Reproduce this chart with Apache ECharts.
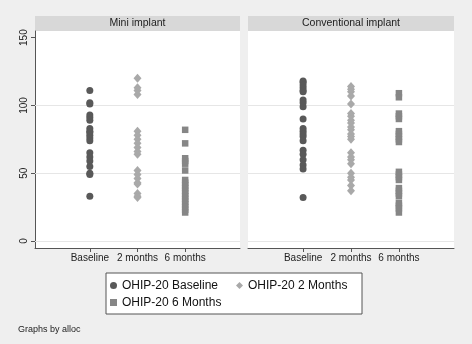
<!DOCTYPE html>
<html>
<head>
<meta charset="utf-8">
<script src="https://cdn.jsdelivr.net/npm/echarts@6/dist/echarts.min.js"></script>
<style>
  html, body { margin: 0; padding: 0; background: #efefef; }
  #show { width: 472px; height: 344px; }
</style>
</head>
<body>
<div id="show"></div>
<script>
var myChart = echarts.init(document.getElementById("show"));

var panels = ['Mini implant', 'Conventional implant'];
var categories = ['Baseline', '2 months', '6 months'];
var seriesNames = ['OHIP-20 Baseline', 'OHIP-20 2 Months', 'OHIP-20 6 Months'];
var yTicks = [0, 50, 100, 150];
var gridLines = [0, 50, 100];

// OHIP-20 scores, mini implant group
var miniBaseline = [111, 102, 101, 93, 91, 89, 83, 81, 80, 78, 76, 74, 65, 62, 59, 55, 50, 49, 33];
var mini2Months = [120, 113, 111, 108, 81, 78, 75, 72, 69, 66, 64, 52, 49, 46, 43, 42, 35, 33, 32];
var mini6Months = [82, 72, 61, 59, 57, 52, 45, 43, 41, 39, 37, 35, 33, 31, 29, 27, 25, 23, 21];

// OHIP-20 scores, conventional implant group
var convBaseline = [118, 117, 115, 113, 111, 110, 104, 102, 99, 90, 83, 81, 79, 77, 74, 67, 64, 60, 56, 53, 32];
var conv2Months = [114, 112, 110, 107, 101, 94, 92, 89, 87, 84, 82, 79, 77, 75, 65, 62, 60, 57, 50, 47, 45, 41, 37];
var conv6Months = [109, 106, 94, 92, 90, 81, 79, 77, 75, 73, 51, 49, 47, 45, 39, 37, 35, 33, 28, 26, 24, 21];

var panelData = [
    [miniBaseline, mini2Months, mini6Months],
    [convBaseline, conv2Months, conv6Months]
];

var colors = ['#595959', '#a9a9a9', '#868686'];
var symbols = ['circle', 'diamond', 'rect'];
var sizes = [7, [8, 9], 6.5];

var grids = [
    {left: 35, top: 31, width: 205, height: 217},
    {left: 248, top: 31, width: 206, height: 217}
];

var series = [];
panelData.forEach(function (groups, p) {
    groups.forEach(function (vals, i) {
        var s = {
            name: seriesNames[i],
            type: 'scatter',
            xAxisIndex: p,
            yAxisIndex: p,
            symbol: symbols[i],
            symbolSize: sizes[i],
            itemStyle: {color: colors[i], opacity: 1},
            data: vals.map(function (v) { return [i + 1, v]; }),
            z: 3
        };
        if (i === 0) {
            s.markLine = {
                silent: true,
                symbol: 'none',
                label: {show: false},
                lineStyle: {color: '#e6e6e6', width: 1, type: 'solid'},
                data: gridLines.map(function (g) { return {yAxis: g}; }),
                z: 1
            };
        }
        series.push(s);
    });
});

var xAxes = grids.map(function (g, p) {
    return {
        type: 'value',
        gridIndex: p,
        min: -0.15,
        max: 4.15,
        splitLine: {show: false},
        axisLine: {show: true, onZero: false, lineStyle: {color: '#555', width: 1}},
        axisTick: {show: true, length: 4, customValues: [1, 2, 3], lineStyle: {color: '#555'}},
        axisLabel: {
            customValues: [1, 2, 3],
            margin: 5,
            fontSize: 10,
            color: '#222',
            formatter: function (v) { return categories[Math.round(v) - 1]; }
        }
    };
});

var yAxes = grids.map(function (g, p) {
    return {
        type: 'value',
        gridIndex: p,
        min: -5.2,
        max: 154.9,
        splitLine: {show: false},
        axisLine: {show: p === 0, onZero: false, lineStyle: {color: '#555', width: 1}},
        axisTick: {show: p === 0, length: 4, customValues: yTicks, lineStyle: {color: '#555'}},
        axisLabel: {
            show: p === 0,
            customValues: yTicks,
            rotate: 90,
            margin: 6,
            fontSize: 10,
            color: '#222'
        }
    };
});

myChart.setOption({
    backgroundColor: '#efefef',
    animation: false,
    textStyle: {fontFamily: 'Liberation Sans'},
    title: {
        text: 'Graphs by alloc',
        left: 13,
        top: 320,
        textStyle: {fontSize: 9, fontWeight: 'normal', color: '#222'}
    },
    grid: grids.map(function (g) {
        return {
            left: g.left, top: g.top, width: g.width, height: g.height,
            show: true, backgroundColor: '#fff', borderWidth: 0
        };
    }),
    graphic: grids.map(function (g, p) {
        return {
            type: 'rect',
            shape: {x: g.left, y: 16, width: g.width, height: 15},
            style: {fill: '#d8d8d8'},
            textContent: {style: {text: panels[p], fontSize: 10.5, fill: '#222', fontFamily: 'Liberation Sans'}},
            textConfig: {position: 'inside'}
        };
    }),
    legend: {
        left: 106,
        top: 273,
        width: 262,
        padding: [5, 2, 4, 4],
        itemGap: 2,
        itemWidth: 7,
        itemHeight: 7,
        backgroundColor: '#fff',
        borderColor: '#555',
        borderWidth: 1,
        borderRadius: 0,
        textStyle: {fontSize: 12, color: '#111', width: 112, lineHeight: 15},
        data: seriesNames.map(function (n, i) {
            return {name: n, icon: symbols[i], itemStyle: {color: colors[i]}};
        })
    },
    xAxis: xAxes,
    yAxis: yAxes,
    series: series
});
</script>
</body>
</html>
